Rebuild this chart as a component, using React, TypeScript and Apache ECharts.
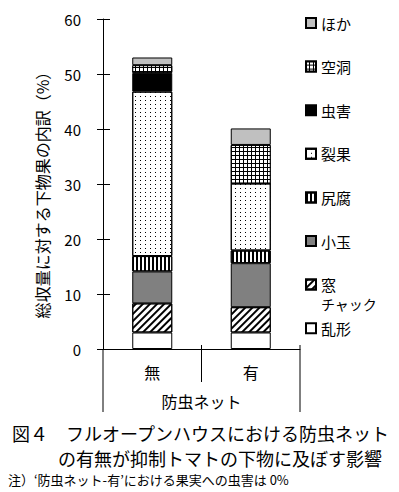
import React, { useEffect, useRef } from "react";
import * as echarts from "echarts";

const categories = ["無", "有"];
const legendOrder = ["ほか", "空洞", "虫害", "裂果", "尻腐", "小玉", "窓チャック", "乱形"];
const ranKei = [3.0, 3.0];
const madoChack = [5.3, 4.6];
const kodama = [5.8, 8.0];
const shirigusare = [2.8, 2.3];
const rekka = [29.9, 12.2];
const chugai = [3.4, 0];
const kudo = [1.4, 7.0];
const hoka = [1.4, 3.0];
const yTicks = { min: 0, max: 60, interval: 10 };

const FONT = "'Noto Sans CJK JP', sans-serif";
const GRID = { left: 103, top: 19, width: 197, height: 330 };

export default function App() {
  const ref = useRef<HTMLDivElement>(null);
  useEffect(() => {
    document.body.style.margin = "0";
    const chart = echarts.init(ref.current!, null, { renderer: "svg" });
    const border = { borderColor: "#000", borderWidth: 1 };
    const mk = (name: string, data: number[], itemStyle: any) => ({
      name,
      type: "bar",
      stack: "total",
      barWidth: 40,
      data,
      itemStyle: { ...border, ...itemStyle },
    });
    const bottomY = GRID.top + GRID.height;
    const rightX = GRID.left + GRID.width;
    const midX = GRID.left + GRID.width / 2;
    chart.setOption({
      animation: false,
      textStyle: { fontFamily: FONT, color: "#000" },
      grid: { ...GRID },
      xAxis: {
        type: "category",
        data: categories,
        axisLine: { lineStyle: { color: "#000", width: 1 } },
        axisTick: { show: false },
        axisLabel: { color: "#000", fontSize: 16, fontFamily: FONT, margin: 15 },
        name: "防虫ネット",
        nameLocation: "middle",
        nameGap: 44,
        nameTextStyle: { color: "#000", fontSize: 16, fontFamily: FONT },
      },
      yAxis: [
        {
          type: "value",
          ...yTicks,
          axisLine: { show: true, lineStyle: { color: "#000", width: 1 } },
          axisTick: { show: true, length: 6, lineStyle: { color: "#000" } },
          splitLine: { show: false },
          axisLabel: { color: "#000", fontSize: 15, fontFamily: FONT, margin: 22 },
          name: "総収量に対する下物果の内訳（%）",
          nameLocation: "middle",
          nameGap: 53,
          nameTextStyle: { color: "#000", fontSize: 16, fontFamily: FONT, padding: [0, 14, 0, 0] },
        },
        {
          type: "value",
          ...yTicks,
          position: "left",
          axisLine: { show: false },
          axisTick: { show: true, inside: true, length: 7, lineStyle: { color: "#000" } },
          splitLine: { show: false },
          axisLabel: { show: false },
        },
      ],
      legend: {
        orient: "vertical",
        left: 305,
        top: 15,
        padding: 0,
        icon: "rect",
        itemWidth: 10,
        itemHeight: 10,
        itemGap: 27.6,
        data: legendOrder,
        formatter: (n: string) => (n === "窓チャック" ? "窓" : n),
        textStyle: { fontSize: 15, lineHeight: 16, color: "#000", fontFamily: FONT },
      },
      series: [
        mk("乱形", ranKei, { color: "#fff" }),
        mk("窓チャック", madoChack, {
          color: "#fff",
          decal: {
            symbol: "rect", symbolSize: 1, color: "#000",
            dashArrayX: [1, 0], dashArrayY: [2, 2.5], rotation: -Math.PI / 4,
          },
        }),
        mk("小玉", kodama, { color: "#808080" }),
        mk("尻腐", shirigusare, {
          color: "#fff",
          decal: {
            symbol: "rect", symbolSize: 1, color: "#000",
            dashArrayX: [2, 2], dashArrayY: [1, 0], rotation: 0,
          },
        }),
        mk("裂果", rekka, {
          color: "#fff",
          decal: {
            symbol: "rect", symbolSize: 1, color: "#000",
            dashArrayX: [1, 4], dashArrayY: [1, 3], rotation: 0,
          },
        }),
        mk("虫害", chugai, { color: "#000" }),
        mk("空洞", kudo, {
          color: "#000",
          decal: {
            symbol: "rect", symbolSize: 1, color: "#fff",
            dashArrayX: [3, 1], dashArrayY: [3, 1], rotation: 0,
          },
        }),
        mk("ほか", hoka, { color: "#c0c0c0" }),
      ],
      graphic: [
        { type: "line", shape: { x1: GRID.left, y1: bottomY, x2: GRID.left, y2: 412 }, style: { stroke: "#000", lineWidth: 1 } },
        { type: "line", shape: { x1: rightX, y1: bottomY - 4, x2: rightX, y2: 412 }, style: { stroke: "#000", lineWidth: 1 } },
        { type: "line", shape: { x1: midX, y1: bottomY - 4, x2: midX, y2: 382 }, style: { stroke: "#000", lineWidth: 1 } },
        { type: "text", left: 321, top: 297, style: { text: "チャック", font: `14px ${FONT}`, lineHeight: 14, fill: "#000" } },
        { type: "text", left: 12, top: 424, style: { text: "図４　フルオープンハウスにおける防虫ネット", font: `18px ${FONT}`, lineHeight: 18, fill: "#000" } },
        { type: "text", left: 58, top: 449, style: { text: "の有無が抑制トマトの下物に及ぼす影響", font: `18px ${FONT}`, lineHeight: 18, fill: "#000" } },
        { type: "text", left: 8, top: 473, style: { text: "注）‘防虫ネット-有’における果実への虫害は 0%", font: `13px ${FONT}`, lineHeight: 13, fill: "#000" } },
      ],
    });
    return () => chart.dispose();
  }, []);
  return <div ref={ref} style={{ width: 399, height: 492 }} />;
}
